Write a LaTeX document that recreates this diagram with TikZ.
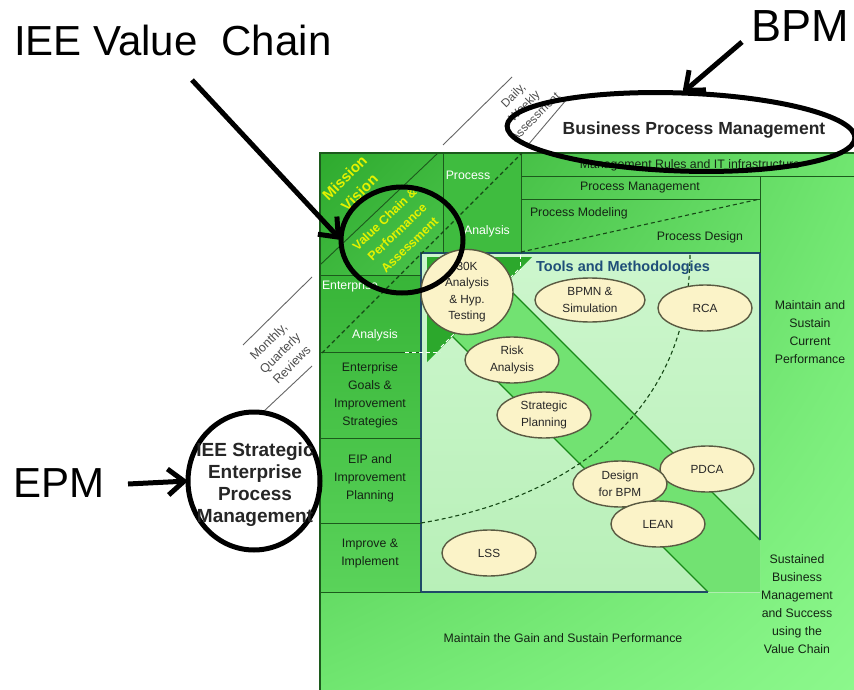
\documentclass[tikz,border=0pt]{standalone}
\usepackage{fontspec}
\setmainfont{Liberation Sans}
\usetikzlibrary{shapes.geometric,arrows.meta,shadings}
\definecolor{pUL}{HTML}{2EAA2E}
\definecolor{pUR}{HTML}{70E670}
\definecolor{pLL}{HTML}{70E670}
\definecolor{pLR}{HTML}{8CF88C}
\definecolor{lcA}{HTML}{38B538}
\definecolor{lcB}{HTML}{5AD35A}
\definecolor{pcol}{HTML}{3FBC3F}
\definecolor{tbA}{HTML}{CDF6CD}
\definecolor{tbB}{HTML}{B8F0B8}
\definecolor{shaftc}{HTML}{72E272}
\definecolor{aheadc}{HTML}{2CA82C}
\definecolor{gridc}{HTML}{1C5A1C}
\definecolor{bandc}{HTML}{1A8A1A}
\definecolor{boxc}{HTML}{1F4A68}
\definecolor{cream}{HTML}{FBF3C8}
\definecolor{ellb}{HTML}{5A5A42}
\definecolor{celltext}{HTML}{142414}
\definecolor{yel}{HTML}{E4F200}
\definecolor{toolt}{HTML}{1F4E79}
\begin{document}
\begin{tikzpicture}[x=1pt,y=-1pt,
  every node/.style={inner sep=0pt,outer sep=0pt},
  gl/.style={draw=gridc,line width=0.9pt},
  dl/.style={draw=gridc!80!black,line width=1.1pt,dash pattern=on 4pt off 3pt},
  wdl/.style={draw=white,line width=1pt,dash pattern=on 4pt off 3pt},
  graylin/.style={draw=black!60,line width=0.9pt},
  ctext/.style={text=celltext,align=center,font=\fontsize{12.3}{18}\selectfont},
  wtext/.style={text=white,font=\fontsize{12.3}{14}\selectfont},
  ytext/.style={text=yel,align=center},
  tool/.style={ellipse,draw=ellb,fill=cream,line width=1.4pt,minimum width=94pt,minimum height=46pt,align=center,text=black!85,font=\fontsize{11.8}{16.5}\selectfont},
  ring/.style={ellipse,draw=black,line width=5pt},
  bigarrow/.style={draw=black,line width=5pt,-{Straight Barb[length=16pt,width=26pt,line width=5pt]}},
  bigtext/.style={text=black,font=\fontsize{42}{48}\selectfont}]
\useasboundingbox (0,0) rectangle (854,690);
\fill[white] (0,0) rectangle (854,690);

% main panel
\shade[upper left=pUL,upper right=pUR,lower left=pLL,lower right=pLR] (320,153) rectangle (854,690);
\shade[top color=lcA,bottom color=lcB] (320,275) rectangle (421,592);
\fill[pcol] (443,153) rectangle (521,253);

% tools box
\shade[top color=tbA,bottom color=tbB] (421,253) rectangle (760,592);
\fill[shaftc] (504,284) -- (760,540) -- (760,592) -- (708,592) -- (452,336) -- cycle;
\fill[aheadc] (427,257) -- (532,257) -- (427,362) -- cycle;
\draw[draw=bandc,line width=1.3pt] (504,284) -- (760,540);
\draw[draw=bandc,line width=1.3pt] (452,336) -- (708,592);
\draw[draw=boxc,line width=1.6pt] (760,540) -- (760,253) -- (421,253) -- (421,592) -- (708,592);

% grid lines
\draw[gl,line width=1.3pt] (854,153) -- (320,153) -- (320,690);
\draw[gl] (443,153) -- (443,253);
\draw[gl] (521,153) -- (521,253);
\draw[gl] (521,176) -- (854,176);
\draw[gl] (521,199) -- (760,199);
\draw[gl] (760,176) -- (760,253);
\draw[gl] (320,275) -- (421,275);
\draw[gl] (320,352) -- (421,352);
\draw[gl] (320,438) -- (421,438);
\draw[gl] (320,523) -- (421,523);
\draw[gl] (320,592) -- (421,592);
\draw[gl] (320,265) -- (438,153);

% dashed lines
\draw[dl] (322,353) -- (522,153);
\draw[dl] (521,252) -- (760,199);
\draw[dl] (421,523) .. controls (560,500) and (690,420) .. (690,253);
\draw[wdl] (520,255) -- (520,270);
\draw[wdl] (518,270) -- (440,348);
\draw[wdl] (405,352) -- (440,352);

% diagonal time lines
\draw[graylin] (443,145) -- (512,77);
\draw[graylin] (528,145) -- (567,99);
\draw[graylin] (243,345) -- (312,277);
\draw[graylin] (263,412) -- (312,366);
\node[rotate=45,align=center,text=black!70,font=\fontsize{11.8}{15.5}\selectfont] (daily) at (524,106) {Daily,\\Weekly\\Assessment};
\node[rotate=45,align=center,text=black!70,font=\fontsize{12.5}{16.5}\selectfont] (monthly) at (280,353) {Monthly,\\Quarterly\\Reviews};

% cell texts
\node[rotate=45,ytext,font=\bfseries\fontsize{15}{21}\selectfont] (mission) at (352,185) {Mission\\Vision};
\node[rotate=44,ytext,font=\bfseries\fontsize{12.5}{18}\selectfont] (vcpa) at (397,232) {Value Chain \&\\Performance\\Assessment};
\node[wtext] (proc) at (468,175) {Process};
\node[wtext] (panal) at (487,231) {Analysis};
\node[wtext,anchor=west] (ent) at (322,286) {Enterprise};
\node[wtext] (eanal) at (375,335) {Analysis};
\node[ctext] (goals) at (370,395) {Enterprise\\Goals \&\\Improvement\\Strategies};
\node[ctext] (eip) at (370,478) {EIP and\\Improvement\\Planning};
\node[ctext] (impl) at (370,554) {Improve \&\\Implement};
\node[ctext] (mrules) at (690,165) {Management Rules and IT infrastructure};
\node[ctext] (pmgmt) at (640,188) {Process Management};
\node[ctext,anchor=west] (pmod) at (530,213) {Process Modeling};
\node[ctext,anchor=east] (pdes) at (743,237) {Process Design};
\node[ctext] (maintcur) at (810,332) {Maintain and\\Sustain\\Current\\Performance};
\node[ctext] (sustbus) at (797,604) {Sustained\\Business\\Management\\and Success\\using the\\Value Chain};
\node[ctext] (gain) at (563,638) {Maintain the Gain and Sustain Performance};
\node[text=toolt,font=\bfseries\fontsize{14.5}{17}\selectfont] (tm) at (623,268) {Tools and Methodologies};

% tool ellipses
\node[tool,minimum width=92pt,minimum height=78pt] (k30) at (467,292) {30K\\Analysis\\\& Hyp.\\Testing};
\node[tool,minimum width=110pt,minimum height=44pt] (bpmn) at (590,300) {BPMN \&\\Simulation};
\node[tool] (rca) at (705,308) {RCA};
\node[tool] (risk) at (512,360) {Risk\\Analysis};
\node[tool] (strat) at (544,415) {Strategic\\Planning};
\node[tool] (pdca) at (707,469) {PDCA};
\node[tool] (dbpm) at (620,484) {Design\\for BPM};
\node[tool] (lean) at (658,524) {LEAN};
\node[tool] (lss) at (489,553) {LSS};

% annotations
\node[bigtext,anchor=west] (ivc) at (14,40) {IEE Value\hspace{24pt}Chain};
\node[bigtext,anchor=west,font=\fontsize{45}{50}\selectfont] (bpmt) at (751,26) {BPM};
\node[bigtext,anchor=west,font=\fontsize{42}{48}\selectfont] (epmt) at (13,483) {EPM};

\node[ring,minimum width=122pt,minimum height=106pt] (vcring) at (402,240) {};
\node[ring,minimum width=348pt,minimum height=78pt,rotate=-2] (bpmring) at (681,132) {};
\node[ring,minimum width=132pt,minimum height=138pt] (epmring) at (254,481) {};

\node[text=black!85,font=\fontsize{17.5}{10}\selectfont\bfseries] (bpmtitle) at (694,130) {Business Process Management};
\node[align=center,text=black!85,font=\bfseries\fontsize{19}{22}\selectfont] (epmtitle) at (255,485) {IEE Strategic\\Enterprise\\Process\\Management};

\coordinate (ivcfrom) at (192,80);
\coordinate (bpmfrom) at (742,42);
\coordinate (epmfrom) at (128,484);
\draw[bigarrow] (ivcfrom) -- (vcring.west);
\draw[bigarrow] (bpmfrom) -- (bpmring.north);
\draw[bigarrow] (epmfrom) -- (epmring.west);
\end{tikzpicture}
\end{document}
